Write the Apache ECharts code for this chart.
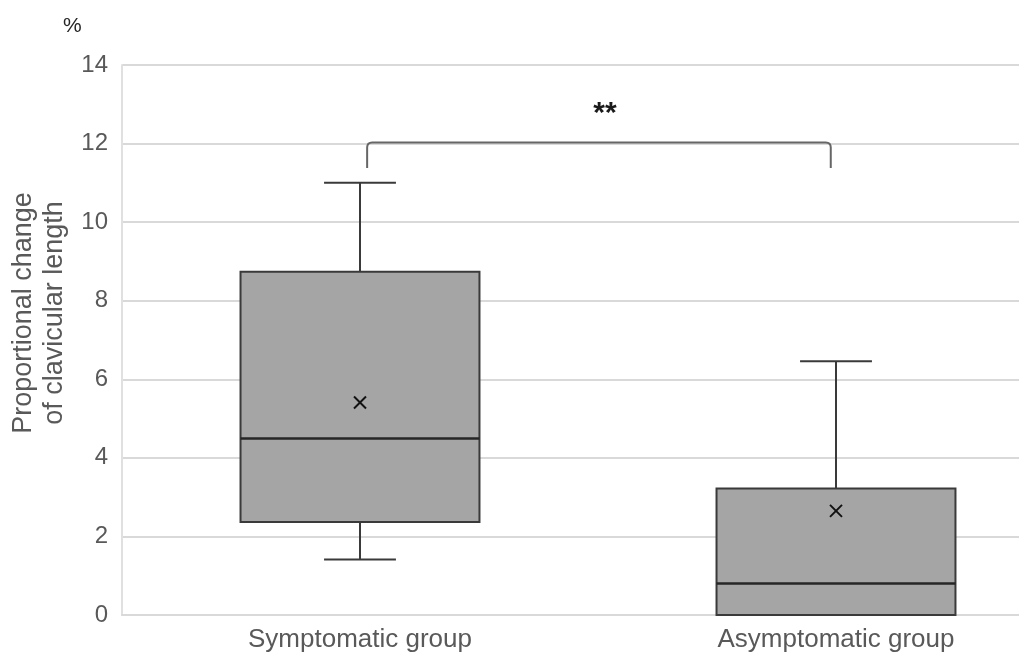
<!DOCTYPE html>
<html>
<head>
<meta charset="utf-8">
<script src="https://cdn.jsdelivr.net/npm/echarts@6/dist/echarts.min.js"></script>
<style>
html,body{margin:0;padding:0;background:#fff;}
#chart{width:1019px;height:657px;}
</style>
</head>
<body>
<div id="chart"></div>
<script>
const categories = ['Symptomatic group', 'Asymptomatic group'];
const whiskerLow = [1.41, 0];
const q1 = [2.37, 0];
const median = [4.49, 0.80];
const q3 = [8.74, 3.22];
const whiskerHigh = [11.0, 6.46];
const mean = [5.41, 2.65];
const yMin = 0, yMax = 14, yInterval = 2;
const bracketLevels = [12.03, 11.38];   // top of bracket, bottom of its legs
const significanceLabel = '**';
const significanceY = 12.96;
const yTitle = 'Proportional change\nof clavicular length';
const unitLabel = '%';

const FONT = '"Liberation Sans", Arial, sans-serif';
const TEXT = '#595959';
const LINE = '#3a3a3a';

const boxData = categories.map((c, i) => [i, whiskerLow[i], q1[i], median[i], q3[i], whiskerHigh[i], mean[i]]);

const chart = echarts.init(document.getElementById('chart'), null, {renderer: 'canvas'});

chart.setOption({
  animation: false,
  backgroundColor: '#fff',
  grid: {left: 122, width: 952, top: 65, bottom: 42, containLabel: false, outerBoundsMode: 'none'},
  xAxis: {
    type: 'category',
    data: categories,
    boundaryGap: true,
    axisLine: {show: true, lineStyle: {color: '#d9d9d9', width: 2}},
    axisTick: {show: false},
    axisLabel: {color: TEXT, fontSize: 26, fontFamily: FONT, margin: 12},
    splitLine: {show: false}
  },
  yAxis: {
    type: 'value',
    min: yMin, max: yMax, interval: yInterval,
    axisLine: {show: true, lineStyle: {color: '#e0e0e0', width: 2}},
    axisTick: {show: false},
    axisLabel: {color: TEXT, fontSize: 24, fontFamily: FONT, margin: 14},
    splitLine: {show: true, lineStyle: {color: '#d9d9d9', width: 2}},
    name: yTitle,
    nameLocation: 'middle',
    nameRotate: 90,
    nameGap: 50,
    nameTextStyle: {color: TEXT, fontSize: 27, fontFamily: FONT, lineHeight: 31, padding: [0, 0, 0, 54]}
  },
  graphic: [{
    type: 'text', left: 63, top: 16,
    style: {text: unitLabel, fontSize: 21, fontFamily: FONT, fill: '#262626'}
  }],
  series: [{
    type: 'custom',
    data: boxData,
    encode: {x: 0, y: [1, 2, 3, 4, 5, 6]},
    renderItem: function (params, api) {
      const i = api.value(0);
      const band = api.size([1, 0])[0];
      const bw = band * 0.502, cw = band * 0.151;
      const x = api.coord([i, 0])[0];
      const pLow = api.coord([i, api.value(1)])[1];
      const pQ1 = api.coord([i, api.value(2)])[1];
      const pMed = api.coord([i, api.value(3)])[1];
      const pQ3 = api.coord([i, api.value(4)])[1];
      const pHigh = api.coord([i, api.value(5)])[1];
      const pMean = api.coord([i, api.value(6)])[1];
      const ls = {stroke: LINE, lineWidth: 2};
      const m = 6;
      return {
        type: 'group',
        children: [
          {type: 'line', shape: {x1: x, y1: pQ3, x2: x, y2: pHigh}, style: ls},
          {type: 'line', shape: {x1: x - cw / 2, y1: pHigh, x2: x + cw / 2, y2: pHigh}, style: ls},
          {type: 'line', shape: {x1: x, y1: pQ1, x2: x, y2: pLow}, style: ls},
          {type: 'line', shape: {x1: x - cw / 2, y1: pLow, x2: x + cw / 2, y2: pLow}, style: ls},
          {type: 'rect', shape: {x: x - bw / 2, y: pQ3, width: bw, height: pQ1 - pQ3},
            style: {fill: '#a5a5a5', stroke: LINE, lineWidth: 2}},
          {type: 'line', shape: {x1: x - bw / 2, y1: pMed, x2: x + bw / 2, y2: pMed}, style: {stroke: '#262626', lineWidth: 2.5}},
          {type: 'line', shape: {x1: x - m, y1: pMean - m, x2: x + m, y2: pMean + m}, style: {stroke: '#111', lineWidth: 2}},
          {type: 'line', shape: {x1: x - m, y1: pMean + m, x2: x + m, y2: pMean - m}, style: {stroke: '#111', lineWidth: 2}}
        ]
      };
    }
  }, {
    type: 'custom',
    data: [[0, 1, bracketLevels[0], bracketLevels[1], significanceY]],
    encode: {x: [0, 1], y: [2, 3, 4]},
    renderItem: function (params, api) {
      const band = api.size([1, 0])[0];
      const xl = api.coord([api.value(0), 0])[0] + band * 0.015;
      const xr = api.coord([api.value(1), 0])[0] - band * 0.011;
      const yt = api.coord([0, api.value(2)])[1];
      const ye = api.coord([0, api.value(3)])[1];
      const ys = api.coord([0, api.value(4)])[1];
      const r = 5;
      const d = 'M' + xl + ' ' + ye + ' L' + xl + ' ' + (yt + r) + ' Q' + xl + ' ' + yt + ' ' + (xl + r) + ' ' + yt +
        ' L' + (xr - r) + ' ' + yt + ' Q' + xr + ' ' + yt + ' ' + xr + ' ' + (yt + r) + ' L' + xr + ' ' + ye;
      return {
        type: 'group',
        children: [
          {type: 'path', shape: {pathData: d}, style: {stroke: '#666', lineWidth: 2, fill: null}},
          {type: 'text', x: (xl + xr) / 2 + 6, y: ys + 8,
            style: {text: significanceLabel, fontSize: 30, fontWeight: 'bold', fontFamily: FONT, fill: '#1a1a1a',
              align: 'center', verticalAlign: 'middle'}}
        ]
      };
    }
  }]
});
</script>
</body>
</html>
